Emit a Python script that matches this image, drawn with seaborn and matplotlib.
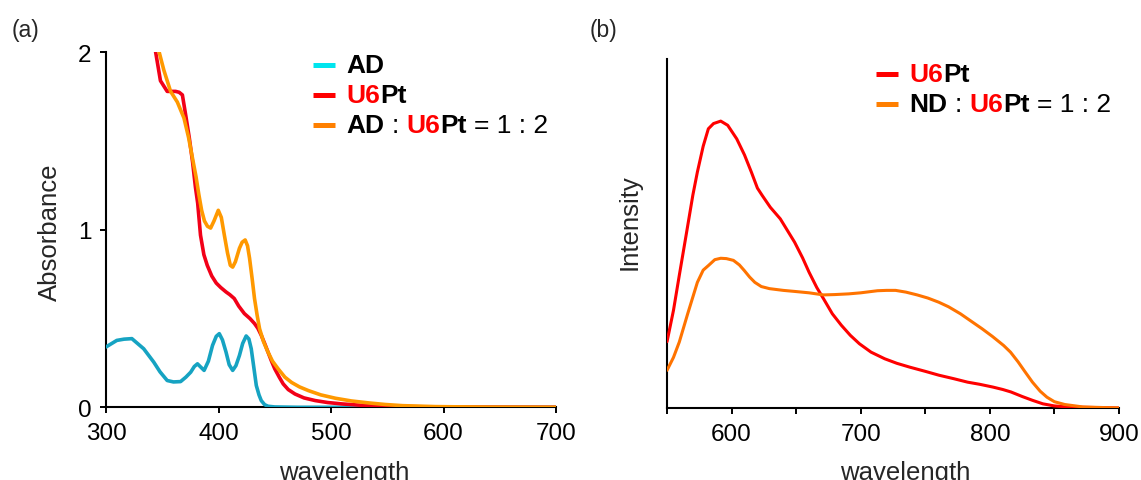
import matplotlib
matplotlib.use("Agg")
import matplotlib.pyplot as plt
import seaborn as sns
from matplotlib.offsetbox import TextArea, HPacker, VPacker, DrawingArea, AnchoredOffsetbox
from matplotlib.lines import Line2D
from matplotlib.ticker import FixedLocator, FixedFormatter

# ---------------- (a) UV-vis absorption ----------------
ad_wl = [300, 309.6, 316, 323, 333.5, 342.4, 348, 354.4, 360, 366.3, 371, 375.3, 378.5, 381.3,
         384, 387.2, 391, 394.7, 398, 400.7, 403.5, 406.7, 409.5, 412.6, 415.5, 418.6, 421.5,
         424.6, 427, 429.1, 431.5, 433.6, 436, 438, 441, 444, 450, 470, 700]
ad_abs = [0.34, 0.377, 0.384, 0.387, 0.33, 0.255, 0.2, 0.151, 0.143, 0.145, 0.17, 0.198, 0.23, 0.245,
          0.228, 0.208, 0.26, 0.349, 0.40, 0.415, 0.38, 0.311, 0.24, 0.208, 0.235, 0.292, 0.36,
          0.402, 0.385, 0.33, 0.22, 0.123, 0.07, 0.038, 0.015, 0.006, 0.002, 0.0, 0.0]

u6pt_wl = [300, 325, 338, 343.9, 348.4, 354.4, 361.9, 365, 367.9, 371, 374, 377, 379.5, 381.5,
           384, 387, 390, 394, 398, 402, 406.7, 410, 414, 418, 423, 428, 432, 435, 438, 441,
           444, 447, 450, 454, 457.5, 462, 468, 476, 486, 497, 510, 528, 549, 580, 620, 700]
u6pt_abs = [3.6, 2.55, 2.2, 2.01, 1.84, 1.78, 1.78, 1.775, 1.76, 1.64, 1.52, 1.38, 1.24, 1.15,
            0.97, 0.86, 0.80, 0.74, 0.70, 0.675, 0.65, 0.635, 0.613, 0.57, 0.528, 0.50, 0.472,
            0.445, 0.406, 0.36, 0.311, 0.262, 0.217, 0.17, 0.132, 0.10, 0.075, 0.053, 0.038,
            0.027, 0.019, 0.011, 0.006, 0.003, 0.001, 0.0]

mix_wl = [300, 325, 340, 346.9, 351.4, 357.4, 363.4, 369.3, 373.4, 377, 380, 382.5, 385, 387.5,
          390.2, 393, 396, 399.8, 402.5, 405.2, 408, 410.5, 412.6, 415, 418.6, 421, 423.7, 425.8,
          427.6, 430, 432, 434.3, 436.5, 440, 444, 448, 453, 459, 465, 472, 480, 491, 504, 518,
          534, 548, 563.5, 593, 640, 700]
mix_abs = [3.8, 2.6, 2.2, 2.01, 1.90, 1.78, 1.72, 1.63, 1.52, 1.40, 1.30, 1.20, 1.11, 1.05,
           1.02, 1.01, 1.05, 1.11, 1.07, 0.97, 0.87, 0.80, 0.79, 0.82, 0.896, 0.93, 0.943, 0.91,
           0.84, 0.72, 0.613, 0.52, 0.443, 0.37, 0.311, 0.26, 0.217, 0.17, 0.14, 0.115, 0.094,
           0.07, 0.051, 0.036, 0.0245, 0.016, 0.0094, 0.004, 0.001, 0.0]

a_xticks = [300, 400, 500, 600, 700]
a_yticks = [0, 1, 2]

# ---------------- (b) emission ----------------
em_u6pt_wl = [550, 555, 559.5, 565, 570, 573.5, 578, 582, 586, 591.6, 597, 604, 610, 615.3, 620,
              623.7, 630, 637.7, 643, 648.8, 655, 660, 666, 671.2, 678, 685, 692, 699, 708,
              718.6, 728, 738, 750, 760.5, 772, 782.8, 792, 802.3, 810, 816.3, 825, 833, 841,
              849.8, 860, 872, 900]
em_u6pt_int = [0.19, 0.28, 0.38, 0.50, 0.61, 0.676, 0.75, 0.80, 0.815, 0.822, 0.81, 0.771, 0.725,
               0.676, 0.63, 0.609, 0.575, 0.542, 0.51, 0.475, 0.43, 0.389, 0.345, 0.313, 0.27,
               0.237, 0.208, 0.184, 0.16, 0.141, 0.128, 0.117, 0.105, 0.094, 0.084, 0.074,
               0.068, 0.060, 0.053, 0.046, 0.033, 0.022, 0.012, 0.006, 0.003, 0.002, 0.0]

em_mix_wl = [550, 555, 559.5, 566, 573.5, 578, 582, 587, 591.6, 596, 601.4, 606, 609.8, 614, 618,
             623, 629.3, 640, 648.8, 660, 671.2, 680, 690.7, 700, 713, 720, 727, 735, 743.7,
             752, 760.5, 768, 777.2, 785, 794, 802, 810.7, 816, 821.9, 827, 833, 839, 844.2,
             850, 858, 872, 900]
em_mix_int = [0.108, 0.145, 0.189, 0.27, 0.36, 0.395, 0.408, 0.425, 0.429, 0.428, 0.423, 0.41,
              0.394, 0.375, 0.36, 0.348, 0.342, 0.337, 0.334, 0.33, 0.324, 0.325, 0.327, 0.33,
              0.336, 0.337, 0.337, 0.332, 0.324, 0.315, 0.303, 0.29, 0.27, 0.25, 0.227, 0.205,
              0.179, 0.16, 0.132, 0.105, 0.074, 0.048, 0.031, 0.018, 0.01, 0.003, 0.0]

b_xticks = [550, 600, 650, 700, 750, 800, 850, 900]
b_xticklabels = ["", "600", "", "700", "", "800", "", "900"]

# ---------------- style ----------------
sns.set_style("ticks")
plt.rcParams["font.family"] = ["Liberation Sans", "DejaVu Sans"]

RED = "#FF0000"
BLACK = "black"
FS_TICK = 17.5
FS_LABEL = 18.5
FS_LEG = 19

fig = plt.figure(figsize=(11.41, 4.81), dpi=100)
ax_a = fig.add_axes([0.0929, 0.1511, 0.3944, 0.738])
ax_b = fig.add_axes([0.5846, 0.1497, 0.3961, 0.7256])


def style_axes(ax):
    for side in ("top", "right"):
        ax.spines[side].set_visible(False)
    for side in ("left", "bottom"):
        ax.spines[side].set_linewidth(1.5)
        ax.spines[side].set_color("black")
    ax.tick_params(direction="out", length=4.5, width=1.4, labelsize=FS_TICK, pad=6,
                   colors="black")


def legend_row(color, groups, fs):
    da = DrawingArea(16, 8, 0, 0)
    da.add_artist(Line2D([0, 16], [4, 4], color=color, lw=3.6, solid_capstyle="butt"))
    words = []
    for group in groups:
        parts = [TextArea(t, textprops=dict(color=c, fontweight=w, fontsize=fs))
                 for t, c, w in group]
        words.append(HPacker(children=parts, sep=0, pad=0, align="baseline"))
    label = HPacker(children=words, sep=fs * 0.28, pad=0, align="baseline")
    return HPacker(children=[da, label], sep=8, pad=0, align="center")


def add_legend(ax, rows, x, y):
    box = VPacker(children=rows, sep=4.2, pad=0, align="left")
    anchored = AnchoredOffsetbox(loc="upper left", child=box, pad=0, borderpad=0,
                                 frameon=False, bbox_to_anchor=(x, y),
                                 bbox_transform=ax.transAxes)
    ax.add_artist(anchored)


# ---------------- panel (a) ----------------
sns.lineplot(x=ad_wl, y=ad_abs, ax=ax_a, color="#16A3C2", linewidth=2.6, sort=False,
             estimator=None, zorder=3)
sns.lineplot(x=u6pt_wl, y=u6pt_abs, ax=ax_a, color="#F20018", linewidth=2.6, sort=False,
             estimator=None, zorder=3)
sns.lineplot(x=mix_wl, y=mix_abs, ax=ax_a, color="#FF9900", linewidth=2.6, sort=False,
             estimator=None, zorder=3)
ax_a.set_xlim(300, 700)
ax_a.set_ylim(0, 2)
ax_a.xaxis.set_major_locator(FixedLocator(a_xticks))
ax_a.yaxis.set_major_locator(FixedLocator(a_yticks))
style_axes(ax_a)
ax_a.set_xlabel("wavelength", fontsize=FS_LABEL)
ax_a.xaxis.set_label_coords(0.529, -0.148)
ax_a.set_ylabel("Absorbance", fontsize=FS_LABEL)
ax_a.yaxis.label.set_va("center")
ax_a.yaxis.set_label_coords(-0.124, 0.496)

add_legend(ax_a, [
    legend_row("#00E5EE", [[("AD", BLACK, "bold")]], FS_LEG),
    legend_row(RED, [[("U6", RED, "bold"), ("Pt", BLACK, "bold")]], FS_LEG),
    legend_row("#FF8000", [[("AD", BLACK, "bold")], [(":", BLACK, "normal")],
                           [("U6", RED, "bold"), ("Pt", BLACK, "bold")],
                           [("= 1 : 2", BLACK, "normal")]], FS_LEG),
], 0.46, 0.998)

# ---------------- panel (b) ----------------
sns.lineplot(x=em_u6pt_wl, y=em_u6pt_int, ax=ax_b, color="#FF0000", linewidth=2.2, sort=False,
             estimator=None, zorder=3)
sns.lineplot(x=em_mix_wl, y=em_mix_int, ax=ax_b, color="#FF7300", linewidth=2.2, sort=False,
             estimator=None, zorder=3)
ax_b.set_xlim(550, 900)
ax_b.set_ylim(0, 1)
ax_b.xaxis.set_major_locator(FixedLocator(b_xticks))
ax_b.xaxis.set_major_formatter(FixedFormatter(b_xticklabels))
ax_b.set_yticks([])
style_axes(ax_b)
ax_b.set_xlabel("wavelength", fontsize=FS_LABEL)
ax_b.xaxis.set_label_coords(0.528, -0.15)
ax_b.set_ylabel("Intensity", fontsize=FS_LABEL)
ax_b.yaxis.label.set_va("center")
ax_b.yaxis.set_label_coords(-0.082, 0.536)

add_legend(ax_b, [
    legend_row(RED, [[("U6", RED, "bold"), ("Pt", BLACK, "bold")]], FS_LEG),
    legend_row("#FF7F00", [[("ND", BLACK, "bold")], [(":", BLACK, "normal")],
                           [("U6", RED, "bold"), ("Pt", BLACK, "bold")],
                           [("= 1 : 2", BLACK, "normal")]], FS_LEG),
], 0.462, 0.992)

# panel tags
fig.text(12 / 1141, 1 - 30 / 481, "(a)", fontsize=16.5, va="center", ha="left")
fig.text(590 / 1141, 1 - 30 / 481, "(b)", fontsize=16.5, va="center", ha="left")

fig.savefig("out.png", dpi=100)
